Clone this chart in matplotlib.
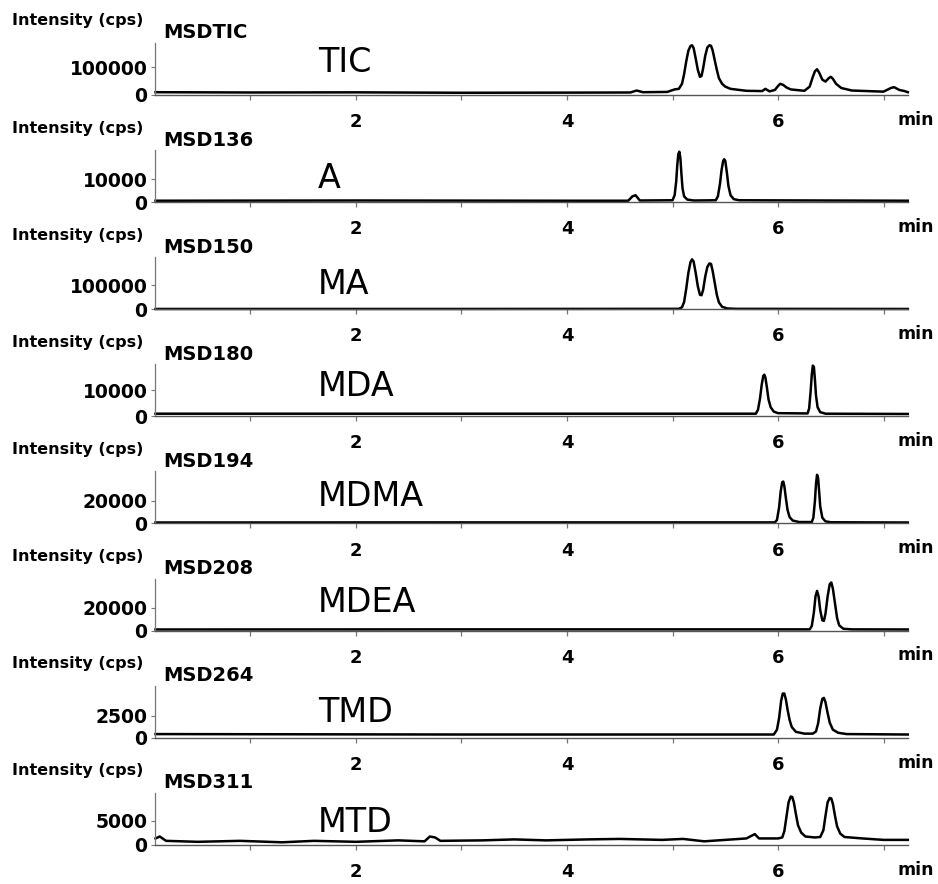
import matplotlib.pyplot as plt

W, H = 938, 884

channels = ['MSDTIC', 'MSD136', 'MSD150', 'MSD180', 'MSD194', 'MSD208', 'MSD264', 'MSD311']
compounds = ['TIC', 'A', 'MA', 'MDA', 'MDMA', 'MDEA', 'TMD', 'MTD']
ytick_vals = [100000, 10000, 100000, 10000, 20000, 20000, 2500, 5000]
ytop = [186000, 22700, 216000, 20000, 46000, 46000, 5900, 10800]

# traces: time (min), intensity (cps)
tic_t = [0.1, 1.0, 2.0, 3.0, 4.0, 4.6, 4.66, 4.72, 4.95, 5.02, 5.06, 5.09, 5.11, 5.13, 5.15,
         5.17, 5.185, 5.2, 5.22, 5.24, 5.26, 5.275, 5.29, 5.31, 5.33, 5.35, 5.365, 5.38, 5.4,
         5.42, 5.44, 5.47, 5.5, 5.55, 5.7, 5.85, 5.88, 5.92, 5.97, 6.0, 6.02, 6.05, 6.08, 6.12,
         6.25, 6.3, 6.33, 6.35, 6.37, 6.39, 6.42, 6.45, 6.48, 6.5, 6.52, 6.55, 6.6, 6.7, 7.0,
         7.07, 7.1, 7.15, 7.2, 7.23]
tic_i = [10000, 9000, 9500, 8000, 8500, 9000, 16000, 10000, 11000, 20000, 22000, 40000, 75000,
         120000, 158000, 175000, 178000, 168000, 130000, 90000, 65000, 68000, 95000, 140000,
         170000, 178000, 176000, 160000, 125000, 90000, 60000, 40000, 30000, 22000, 15000,
         14000, 22000, 13000, 18000, 32000, 40000, 36000, 27000, 20000, 15000, 30000, 65000,
         85000, 92000, 80000, 55000, 48000, 60000, 65000, 58000, 40000, 25000, 16000, 12000,
         25000, 28000, 18000, 14000, 10000]

a_t = [0.1, 2.0, 4.0, 4.58, 4.62, 4.65, 4.69, 5.0, 5.02, 5.035, 5.045, 5.055, 5.065, 5.075,
       5.085, 5.095, 5.11, 5.14, 5.2, 5.41, 5.43, 5.45, 5.465, 5.48, 5.49, 5.5, 5.515, 5.53,
       5.55, 5.58, 5.63, 7.23]
a_i = [600, 700, 600, 600, 2500, 3000, 700, 800, 3000, 9000, 16000, 21000, 22000, 19000, 12000,
       6000, 2500, 1100, 700, 800, 2500, 8000, 14000, 18000, 18700, 18000, 13000, 7000, 3000,
       1300, 800, 600]

ma_t = [0.1, 3.0, 5.06, 5.09, 5.11, 5.13, 5.15, 5.17, 5.185, 5.2, 5.22, 5.24, 5.26, 5.275,
        5.29, 5.31, 5.33, 5.35, 5.365, 5.38, 5.4, 5.42, 5.44, 5.47, 5.52, 5.6, 7.23]
ma_i = [1000, 1000, 1500, 8000, 30000, 85000, 150000, 195000, 207000, 198000, 150000, 95000,
        60000, 58000, 80000, 135000, 175000, 190000, 188000, 160000, 110000, 60000, 28000,
        10000, 3000, 1500, 1000]

mda_t = [0.1, 3.0, 5.79, 5.81, 5.83, 5.845, 5.86, 5.87, 5.88, 5.895, 5.91, 5.93, 5.96, 6.0,
         6.28, 6.295, 6.31, 6.32, 6.33, 6.34, 6.35, 6.36, 6.375, 6.4, 6.45, 7.23]
mda_i = [1000, 1000, 1000, 2500, 7000, 12000, 15500, 16000, 15000, 11000, 6500, 3500, 1800,
         1200, 1100, 3000, 10000, 16000, 19500, 19000, 14000, 8000, 3500, 1600, 1000, 900]

mdma_t = [0.1, 3.0, 5.97, 5.99, 6.01, 6.025, 6.04, 6.05, 6.06, 6.075, 6.09, 6.11, 6.14, 6.2,
          6.32, 6.335, 6.35, 6.36, 6.37, 6.38, 6.39, 6.4, 6.42, 6.45, 6.5, 7.23]
mdma_i = [800, 900, 900, 3000, 14000, 28000, 36500, 37000, 33000, 22000, 12000, 5500, 2500,
          1200, 1200, 5000, 20000, 35000, 43000, 40000, 28000, 15000, 5000, 1800, 1000, 800]

mdea_t = [0.1, 3.0, 6.3, 6.32, 6.34, 6.355, 6.37, 6.385, 6.4, 6.42, 6.435, 6.45, 6.47, 6.49,
          6.505, 6.52, 6.54, 6.56, 6.58, 6.62, 6.7, 7.23]
mdea_i = [900, 1000, 1000, 4000, 16000, 30000, 35000, 30000, 18000, 9000, 8500, 15000, 30000,
          41000, 42500, 37000, 24000, 11000, 4500, 1500, 1000, 900]

tmd_t = [0.1, 3.0, 5.96, 5.99, 6.01, 6.03, 6.045, 6.06, 6.075, 6.09, 6.11, 6.13, 6.17, 6.25,
         6.33, 6.36, 6.38, 6.4, 6.42, 6.435, 6.45, 6.47, 6.49, 6.52, 6.57, 6.65, 7.23]
tmd_i = [400, 350, 350, 900, 2200, 4200, 5000, 5000, 4300, 3200, 2000, 1200, 650, 450, 450, 700,
         1600, 3300, 4400, 4500, 4000, 2800, 1700, 900, 550, 400, 350]

mtd_t = [0.1, 0.14, 0.2, 0.5, 0.9, 1.3, 1.6, 2.0, 2.4, 2.65, 2.7, 2.75, 2.8, 3.2, 3.5, 3.8, 4.2,
         4.5, 4.9, 5.1, 5.3, 5.5, 5.7, 5.78, 5.82, 6.0, 6.04, 6.06, 6.08, 6.1, 6.12, 6.135, 6.15,
         6.17, 6.19, 6.22, 6.26, 6.35, 6.4, 6.43, 6.45, 6.47, 6.49, 6.505, 6.52, 6.54, 6.56,
         6.59, 6.63, 6.8, 7.0, 7.23]
mtd_i = [1300, 1700, 800, 600, 800, 500, 800, 600, 900, 700, 1700, 1500, 800, 900, 1100, 900,
         1100, 1200, 1000, 1200, 700, 1000, 1300, 2200, 1300, 1300, 1500, 2800, 5800, 8800, 10000,
         9900, 8800, 6300, 4000, 2500, 1700, 1500, 1600, 3000, 6000, 8800, 9700, 9600, 8500,
         6000, 3800, 2300, 1600, 1300, 1000, 1000]

traces = [(tic_t, tic_i), (a_t, a_i), (ma_t, ma_i), (mda_t, mda_i),
          (mdma_t, mdma_i), (mdea_t, mdea_i), (tmd_t, tmd_i), (mtd_t, mtd_i)]

# label heights (px from top of figure)
label_y = [63, 178, 285, 387, 497, 603, 712, 823]

fig = plt.figure(figsize=(W / 100, H / 100), dpi=100)
plt.rcParams['font.family'] = 'DejaVu Sans'


def fx(x):
    return x / W


def fy(y):
    return 1 - y / H


left, right = 155, 908
for i in range(8):
    top = 43 + 107.1 * i
    bottom = top + 52
    ax = fig.add_axes([fx(left), fy(bottom), (right - left) / W, 52 / H])
    t, v = traces[i]
    ax.plot(t, v, color='black', lw=1.8, clip_on=False, solid_joinstyle='round')
    ax.set_xlim(0.095, 7.232)
    ax.set_ylim(0, ytop[i])

    for s in ['top', 'right']:
        ax.spines[s].set_visible(False)
    ax.spines['left'].set_color('#777777')
    ax.spines['bottom'].set_color('#555555')
    ax.spines['left'].set_linewidth(0.9)
    ax.spines['bottom'].set_linewidth(1.0)

    ax.set_xticks([1, 2, 3, 4, 5, 6, 7])
    ax.set_xticklabels(['', '2', '', '4', '', '6', ''])
    ax.tick_params(axis='x', direction='out', length=3.6, width=0.9, color='#777777',
                   pad=9.5, labelsize=13)
    ax.set_yticks([0, ytick_vals[i]])
    ax.set_yticklabels(['0', str(ytick_vals[i])])
    ax.tick_params(axis='y', direction='out', length=3, width=0.8, color='#777777',
                   pad=2.5, labelsize=13.5)
    for lab in ax.get_xticklabels() + ax.get_yticklabels():
        lab.set_fontweight('bold')

    fig.text(fx(12), fy(top - 22), 'Intensity (cps)', fontsize=11.5, fontweight='bold',
             ha='left', va='center')
    fig.text(fx(163), fy(top - 10), channels[i], fontsize=14, fontweight='bold',
             ha='left', va='center')
    fig.text(fx(318), fy(label_y[i]), compounds[i], fontsize=24, ha='left', va='center')
    fig.text(fx(916), fy(bottom + 25), 'min', fontsize=12.5, fontweight='bold',
             ha='center', va='center')

fig.savefig('out.png', dpi=100)
